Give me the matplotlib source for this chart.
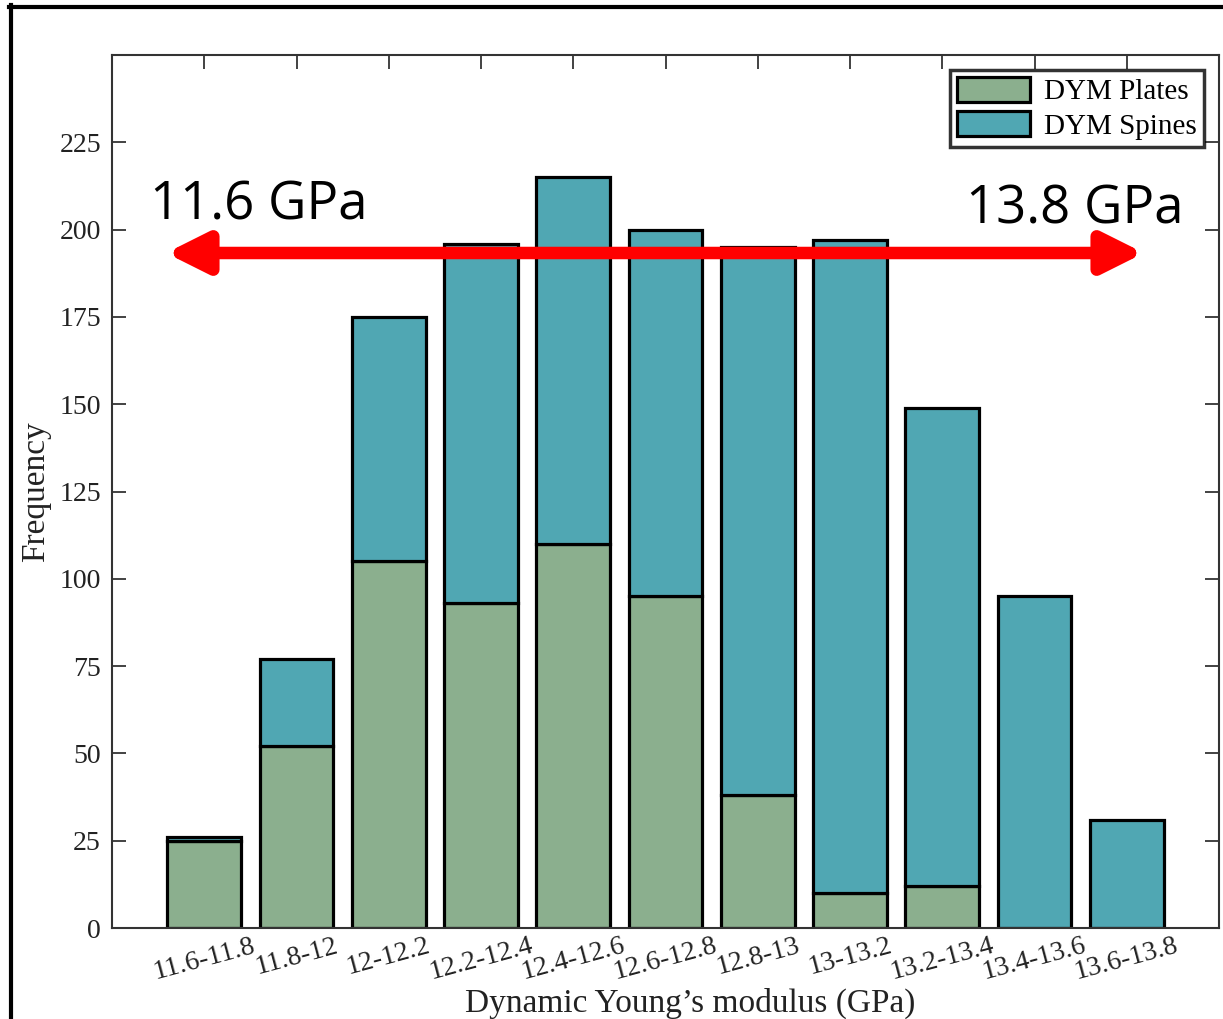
import matplotlib
matplotlib.use("Agg")
import matplotlib.pyplot as plt
from matplotlib.lines import Line2D
import numpy as np

categories = ["11.6-11.8", "11.8-12", "12-12.2", "12.2-12.4", "12.4-12.6", "12.6-12.8",
              "12.8-13", "13-13.2", "13.2-13.4", "13.4-13.6", "13.6-13.8"]
plates = [25, 52, 105, 93, 110, 95, 38, 10, 12, 0, 0]
spines = [1, 25, 70, 103, 105, 105, 157, 187, 137, 95, 31]
yticks = [0, 25, 50, 75, 100, 125, 150, 175, 200, 225]

green = "#8baf8e"
teal = "#50a7b3"

plt.rcParams['font.family'] = ['Liberation Serif', 'DejaVu Serif']

fig = plt.figure(figsize=(12.23, 10.19), dpi=100)
ax = fig.add_axes([112/1223, 1-928/1019, (1219-112)/1223, (928-55)/1019])
ax.set_axisbelow(True)

x = np.arange(len(categories))
ax.bar(x, plates, width=0.8, color=green, edgecolor="black", linewidth=2.3, label="DYM Plates")
ax.bar(x, spines, width=0.8, bottom=plates, color=teal, edgecolor="black", linewidth=2.3, label="DYM Spines")

ax.set_xlim(-1, 11)
ax.set_ylim(0, 250)
ax.set_yticks(yticks)
ax.set_xticks(x)
ax.set_xticklabels(categories, rotation=15, ha="center")
ax.tick_params(axis="both", direction="in", length=10, width=1.2, labelsize=20, colors="#222222",
               top=True, right=True)
ax.tick_params(axis="x", pad=4)
ax.tick_params(axis="y", pad=8)
for s in ax.spines.values():
    s.set_linewidth(1.5)
    s.set_color("#333333")

ax.set_xlabel("Dynamic Young\u2019s modulus (GPa)", fontsize=24, color="#222222", labelpad=0)
ax.xaxis.set_label_coords((690-112)/1107, -0.069, transform=ax.transAxes)
ax.set_ylabel("Frequency", fontsize=24, color="#222222", labelpad=6)

leg = ax.legend(loc="upper right", fontsize=21, frameon=True, fancybox=False,
                borderaxespad=0.5, handlelength=2.5, handleheight=0.95, labelspacing=0.2,
                borderpad=0.25, handletextpad=0.5)
leg.get_frame().set_edgecolor("black")
leg.get_frame().set_linewidth(2.5)

# red double-ended arrow with annotations (axes fraction coordinates)
ax.annotate("", xy=((166-112)/1107, (928-253)/873), xytext=((1144-112)/1107, (928-253)/873),
            xycoords="axes fraction", textcoords="axes fraction",
            arrowprops=dict(arrowstyle="<|-|>,head_length=2.4,head_width=1.2", color="red",
                            lw=9, shrinkA=0, shrinkB=0))
ax.text((150-112)/1107, (928-220)/873, "11.6 GPa", transform=ax.transAxes,
        fontsize=38, family="Open Sans", color="black", ha="left", va="baseline")
ax.text((1183-112)/1107, (928-223)/873, "13.8 GPa", transform=ax.transAxes,
        fontsize=38, family="Open Sans", color="black", ha="right", va="baseline")

# figure border (top and left)
fig.add_artist(Line2D([9/1223, 1], [1-6.5/1019, 1-6.5/1019], transform=fig.transFigure,
                      color="black", lw=3))
fig.add_artist(Line2D([11/1223, 11/1223], [0, 1-5/1019], transform=fig.transFigure,
                      color="black", lw=3))

fig.savefig("out.png", dpi=100)
